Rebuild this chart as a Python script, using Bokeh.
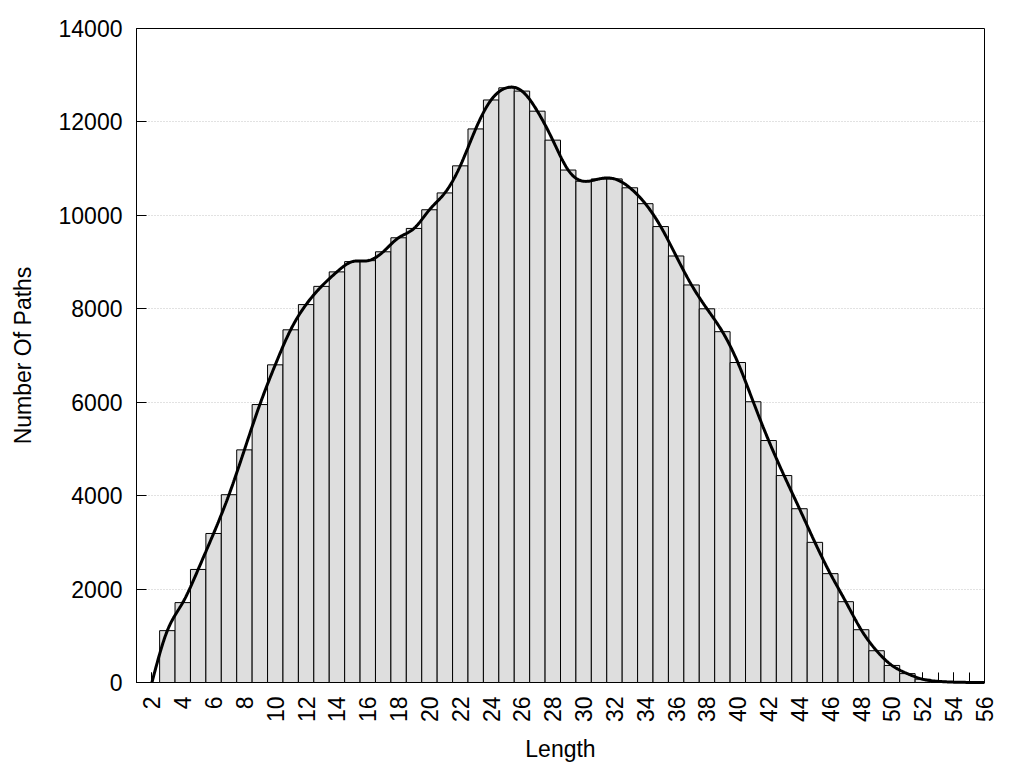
import numpy as np
from bokeh.plotting import figure
from bokeh.models import Range1d, FixedTicker, ColumnDataSource
from bokeh.embed import file_html
from bokeh.resources import INLINE

# ---- data ----
lengths = list(range(2, 57))
counts = [0, 1110, 1710, 2420, 3190, 4020, 4980, 5950, 6800, 7550,
          8090, 8480, 8790, 9010, 9030, 9220, 9520, 9720, 10120, 10480,
          11060, 11850, 12470, 12730, 12660, 12230, 11610, 10970, 10730, 10780,
          10780, 10590, 10250, 9760, 9130, 8510, 8000, 7510, 6850, 6010,
          5180, 4430, 3720, 3000, 2330, 1730, 1130, 680, 365, 190,
          70, 25, 8, 2, 0]
x_tick_labels = list(range(2, 57, 2))
y_ticks = list(range(0, 14001, 2000))

FONT = "Liberation Sans"
FS = "23px"


def natural_spline(xs, ys, n_per=20):
    xs = np.asarray(xs, float)
    ys = np.asarray(ys, float)
    n = len(xs)
    h = np.diff(xs)
    A = np.zeros((n, n))
    b = np.zeros(n)
    A[0, 0] = 1.0
    A[-1, -1] = 1.0
    for i in range(1, n - 1):
        A[i, i - 1] = h[i - 1]
        A[i, i] = 2 * (h[i - 1] + h[i])
        A[i, i + 1] = h[i]
        b[i] = 3 * ((ys[i + 1] - ys[i]) / h[i] - (ys[i] - ys[i - 1]) / h[i - 1])
    c = np.linalg.solve(A, b)
    out_x, out_y = [], []
    for i in range(n - 1):
        bb = (ys[i + 1] - ys[i]) / h[i] - h[i] * (2 * c[i] + c[i + 1]) / 3
        d = (c[i + 1] - c[i]) / (3 * h[i])
        t = np.linspace(0, h[i], n_per, endpoint=False)
        out_x.extend(xs[i] + t)
        out_y.extend(ys[i] + bb * t + c[i] * t ** 2 + d * t ** 3)
    out_x.append(xs[-1])
    out_y.append(ys[-1])
    return out_x, out_y


p = figure(
    output_backend="svg", toolbar_location=None,
    frame_width=848, frame_height=654,
    x_range=Range1d(1, 56), y_range=Range1d(0, 14000),
    min_border_left=136, min_border_top=28, min_border_bottom=78, min_border_right=14,
)
p.background_fill_color = "white"
p.border_fill_color = "white"
p.outline_line_color = "black"
p.outline_line_width = 1

src = ColumnDataSource(dict(x=lengths, top=counts))
bars = p.vbar(x="x", top="top", width=1.0, bottom=0, source=src,
              fill_color="#dedede", line_color="black", line_width=1)
bars.level = "annotation"

sx, sy = natural_spline(lengths, counts)
curve = p.line(sx, sy, line_color="black", line_width=3)
curve.level = "annotation"

# x axis
xa = p.xaxis[0]
xa.ticker = FixedTicker(ticks=x_tick_labels, minor_ticks=lengths)
xa.major_label_orientation = np.pi / 2
xa.major_tick_in = 10
xa.major_tick_out = 0
xa.minor_tick_in = 10
xa.minor_tick_out = 0
xa.major_tick_line_color = "black"
xa.minor_tick_line_color = "black"
xa.axis_line_color = "black"
xa.major_label_text_font = FONT
xa.major_label_text_font_size = FS
xa.major_label_text_color = "black"
xa.major_label_standoff = 14
xa.axis_label = "Length"
xa.axis_label_text_font = FONT
xa.axis_label_text_font_size = FS
xa.axis_label_text_font_style = "normal"
xa.axis_label_text_color = "black"
xa.axis_label_standoff = 11

# y axis
ya = p.yaxis[0]
ya.ticker = FixedTicker(ticks=y_ticks)
ya.major_tick_in = 10
ya.major_tick_out = 0
ya.minor_tick_line_color = None
ya.major_tick_line_color = "black"
ya.axis_line_color = "black"
ya.major_label_text_font = FONT
ya.major_label_text_font_size = FS
ya.major_label_text_color = "black"
ya.major_label_standoff = 14
ya.axis_label = "Number Of Paths"
ya.axis_label_text_font = FONT
ya.axis_label_text_font_size = FS
ya.axis_label_text_font_style = "normal"
ya.axis_label_text_color = "black"
ya.axis_label_standoff = 20

p.xgrid.grid_line_color = None
p.ygrid.grid_line_color = "#c4c4c4"
p.ygrid.grid_line_dash = "1 2"
p.ygrid.grid_line_width = 1

open("out.html", "w").write(file_html(p, INLINE))
